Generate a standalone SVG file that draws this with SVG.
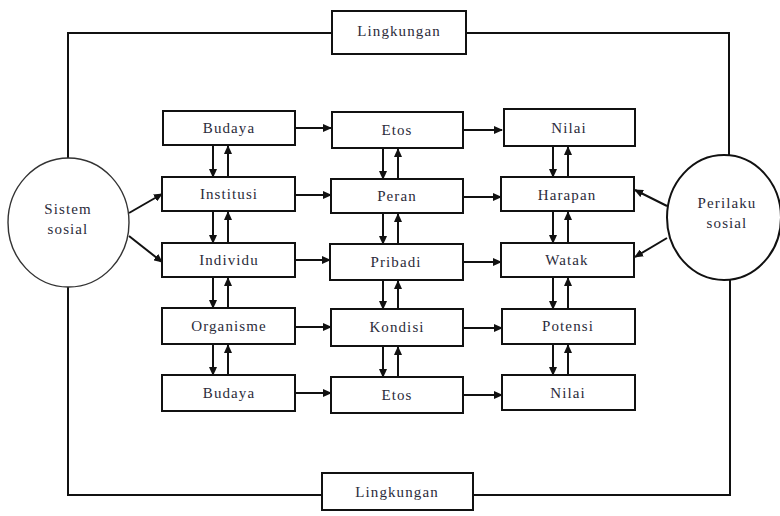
<svg xmlns="http://www.w3.org/2000/svg" width="780" height="516" viewBox="0 0 780 516">
<style>
.box{fill:#fff;stroke:#111;stroke-width:2}
.circ{fill:#fff;stroke:#333;stroke-width:1.4}
.t{font-family:"Liberation Serif","Times New Roman",serif;font-size:15px;fill:#2b2b3a;text-anchor:middle;dominant-baseline:central;letter-spacing:1.1px}
.ln{fill:none;stroke:#111;stroke-width:2}
.ar{fill:none;stroke:#111;stroke-width:2;marker-end:url(#ah)}
</style>
<defs>
<marker id="ah" markerUnits="userSpaceOnUse" markerWidth="9" markerHeight="8" refX="8" refY="4" orient="auto">
<path d="M0,0 L9,4 L0,8 z" fill="#111"/>
</marker>
</defs>
<rect width="780" height="516" fill="#fff"/>
<g id="connectors">
<path class="ln" d="M68,158 V33 H332 M466,33 H729 V155"/>
<path class="ln" d="M68,287 V495 H322 M473,495 H730 V280"/>
<line class="ar" x1="129" y1="213" x2="162" y2="194"/>
<line class="ar" x1="129" y1="236" x2="162" y2="262"/>
<line class="ar" x1="667" y1="206" x2="635" y2="190"/>
<line class="ar" x1="667" y1="238" x2="635" y2="257"/>
<line class="ar" x1="295" y1="128" x2="331" y2="128"/>
<line class="ar" x1="463" y1="130" x2="502" y2="130"/>
<line class="ar" x1="295" y1="195" x2="331" y2="195"/>
<line class="ar" x1="463" y1="197" x2="501" y2="197"/>
<line class="ar" x1="295" y1="260" x2="330" y2="260"/>
<line class="ar" x1="463" y1="262" x2="501" y2="262"/>
<line class="ar" x1="295" y1="327" x2="331" y2="327"/>
<line class="ar" x1="463" y1="328" x2="502" y2="328"/>
<line class="ar" x1="295" y1="393" x2="331" y2="393"/>
<line class="ar" x1="463" y1="395" x2="502" y2="395"/>
<line class="ar" x1="213" y1="146" x2="213" y2="177"/>
<line class="ar" x1="228" y1="177" x2="228" y2="146"/>
<line class="ar" x1="213" y1="212" x2="213" y2="243"/>
<line class="ar" x1="228" y1="243" x2="228" y2="212"/>
<line class="ar" x1="213" y1="278" x2="213" y2="308"/>
<line class="ar" x1="228" y1="308" x2="228" y2="278"/>
<line class="ar" x1="213" y1="345" x2="213" y2="375"/>
<line class="ar" x1="228" y1="375" x2="228" y2="345"/>
<line class="ar" x1="383" y1="149" x2="383" y2="179"/>
<line class="ar" x1="398" y1="179" x2="398" y2="149"/>
<line class="ar" x1="383" y1="214" x2="383" y2="244"/>
<line class="ar" x1="398" y1="244" x2="398" y2="214"/>
<line class="ar" x1="383" y1="281" x2="383" y2="309"/>
<line class="ar" x1="398" y1="309" x2="398" y2="281"/>
<line class="ar" x1="383" y1="347" x2="383" y2="377"/>
<line class="ar" x1="398" y1="377" x2="398" y2="347"/>
<line class="ar" x1="553" y1="147" x2="553" y2="177"/>
<line class="ar" x1="568" y1="177" x2="568" y2="147"/>
<line class="ar" x1="553" y1="212" x2="553" y2="243"/>
<line class="ar" x1="568" y1="243" x2="568" y2="212"/>
<line class="ar" x1="553" y1="278" x2="553" y2="309"/>
<line class="ar" x1="568" y1="309" x2="568" y2="278"/>
<line class="ar" x1="553" y1="345" x2="553" y2="375"/>
<line class="ar" x1="568" y1="375" x2="568" y2="345"/>
</g>
<g id="lingkungan-top"><rect class="box" x="332" y="11" width="134" height="43"/><text class="t" x="399" y="31">Lingkungan</text></g>
<g id="lingkungan-bottom"><rect class="box" x="322" y="473" width="151" height="37"/><text class="t" x="397" y="492">Lingkungan</text></g>
<g id="sistem-sosial"><ellipse class="circ" cx="68.5" cy="222.5" rx="60.5" ry="64.5"/><text class="t" x="68" y="209">Sistem</text><text class="t" x="68" y="229">sosial</text></g>
<g id="perilaku-sosial"><ellipse class="circ" cx="724" cy="217.5" rx="57" ry="62.5" style="stroke-width:2;stroke:#111"/><text class="t" x="727" y="203">Perilaku</text><text class="t" x="727" y="223">sosial</text></g>
<g id="budaya1"><rect class="box" x="163" y="111" width="132" height="34"/><text class="t" x="229" y="128">Budaya</text></g>
<g id="institusi"><rect class="box" x="162" y="177" width="133" height="34"/><text class="t" x="229" y="194">Institusi</text></g>
<g id="individu"><rect class="box" x="162" y="243" width="133" height="34"/><text class="t" x="229" y="260">Individu</text></g>
<g id="organisme"><rect class="box" x="162" y="308" width="133" height="36"/><text class="t" x="229" y="326">Organisme</text></g>
<g id="budaya2"><rect class="box" x="162" y="375" width="133" height="36"/><text class="t" x="229" y="393">Budaya</text></g>
<g id="etos1"><rect class="box" x="332" y="112" width="131" height="36"/><text class="t" x="397" y="130">Etos</text></g>
<g id="peran"><rect class="box" x="331" y="179" width="132" height="34"/><text class="t" x="397" y="196">Peran</text></g>
<g id="pribadi"><rect class="box" x="330" y="244" width="133" height="36"/><text class="t" x="396" y="262">Pribadi</text></g>
<g id="kondisi"><rect class="box" x="331" y="309" width="132" height="37"/><text class="t" x="397" y="327">Kondisi</text></g>
<g id="etos2"><rect class="box" x="331" y="377" width="132" height="36"/><text class="t" x="397" y="395">Etos</text></g>
<g id="nilai1"><rect class="box" x="504" y="109" width="131" height="37"/><text class="t" x="569" y="128">Nilai</text></g>
<g id="harapan"><rect class="box" x="501" y="177" width="133" height="34"/><text class="t" x="567" y="195">Harapan</text></g>
<g id="watak"><rect class="box" x="501" y="243" width="133" height="34"/><text class="t" x="567" y="260">Watak</text></g>
<g id="potensi"><rect class="box" x="502" y="309" width="133" height="35"/><text class="t" x="568" y="326">Potensi</text></g>
<g id="nilai2"><rect class="box" x="502" y="375" width="133" height="35"/><text class="t" x="568" y="393">Nilai</text></g>
</svg>
